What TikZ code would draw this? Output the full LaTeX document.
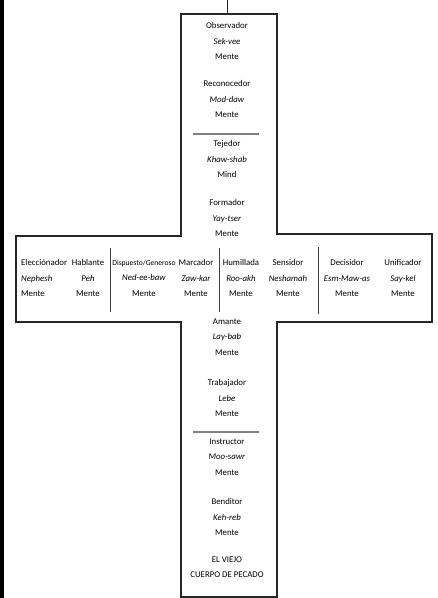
\documentclass[tikz,border=0pt]{standalone}
\usepackage{fontspec}
\setmainfont{Carlito}

\begin{document}
\begin{tikzpicture}[x=1pt, y=-1pt,
    entry/.style={align=center, inner sep=0pt, font=\fontsize{8.8}{15.5}\selectfont},
    outline/.style={draw=black!85, line width=1.1pt},
    rule/.style={draw=gray, line width=1.7pt},
    divider/.style={draw=black!75, line width=1pt}]

    \useasboundingbox (0,0) rectangle (438,598);
    \fill (0,0) rectangle (4,598);

    % cross
    \draw[outline] (181,14) -- (277,14) -- (277,234) -- (432,234) -- (432,322)
        -- (277,322) -- (277,597) -- (181,597) -- (181,322) -- (16,322)
        -- (16,236) -- (181,236) -- cycle;
    \coordinate (top) at (227,0);
    \coordinate (topin) at (227,14);
    \draw[draw=black!85, line width=0.8pt] (top) -- (topin);

    % upper bar
    \node[entry] (obs) at (227,41)  {Observador\\\textit{Sek-vee}\\Mente};
    \node[entry] (rec) at (227,99)  {Reconocedor\\\textit{Mod-daw}\\Mente};
    \node[entry] (tej) at (227,159) {Tejedor\\\textit{Khaw-shab}\\Mind};
    \node[entry] (frm) at (227,218) {Formador\\\textit{Yay-tser}\\Mente};

    % arms
    \node[entry, align=left, anchor=west] (ele) at (21,278) {Elecciónador\\\textit{Nephesh}\\Mente};
    \node[entry] (hab) at (88,278)  {Hablante\\\textit{Peh}\\Mente};
    \node[entry] (dis) at (144,278) {{\fontsize{7.6}{15.5}\selectfont Dispuesto/Generoso}\\\textit{Ned-ee-baw}\\Mente};
    \node[entry] (mar) at (196,278) {Marcador\\\textit{Zaw-kar}\\Mente};
    \node[entry] (hum) at (241,278) {Humillada\\\textit{Roo-akh}\\Mente};
    \node[entry] (sen) at (288,278) {Sensidor\\\textit{Neshamah}\\Mente};
    \node[entry] (dec) at (347,278) {Decisidor\\\textit{Esm-Maw-as}\\Mente};
    \node[entry] (uni) at (403,278) {Unificador\\\textit{Say-kel}\\Mente};

    % lower bar
    \node[entry] (ama) at (227,337) {Amante\\\textit{Lay-bab}\\Mente};
    \node[entry] (tra) at (227,398) {Trabajador\\\textit{Lebe}\\Mente};
    \node[entry] (ins) at (227,457) {Instructor\\\textit{Moo-sawr}\\Mente};
    \node[entry] (ben) at (227,517) {Benditor\\\textit{Keh-reb}\\Mente};
    \node[entry] (vie) at (227,567) {EL VIEJO\\CUERPO DE PECADO};

    % separators
    \draw[rule] (193,134) -- (259,134);
    \draw[rule] (193,432) -- (259,432);
    \draw[divider] (110,248) -- (110,312);
    \draw[divider] (219,248) -- (219,312);
    \draw[divider] (318,247) -- (318,314);

\end{tikzpicture}
\end{document}
